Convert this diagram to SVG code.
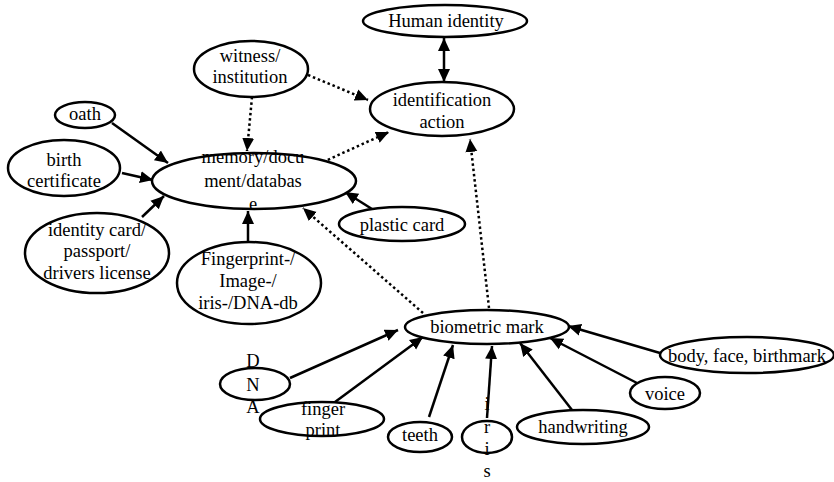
<svg xmlns="http://www.w3.org/2000/svg" width="834" height="482" viewBox="0 0 834 482" font-family="'Liberation Serif','Times New Roman',serif">
<style>
.n ellipse{fill:#fff;stroke:#000;stroke-width:2.5}
.n text{font-family:"Liberation Serif","Times New Roman",serif;font-size:18.5px;fill:#000;text-anchor:middle}
.e path{fill:none;stroke:#000;stroke-width:2.5}
.e .d{stroke-dasharray:2.5 2.8}
</style>
<defs>
<marker id="ah" markerUnits="userSpaceOnUse" markerWidth="16" markerHeight="14" refX="13" refY="6.5" orient="auto-start-reverse">
<path d="M0,0.5 L13,6.5 L0,12.5 Z" fill="#000"/>
</marker>
</defs>
<g id="edges" class="e">
<path d="M444,38 L444,82" marker-start="url(#ah)" marker-end="url(#ah)"/>
<path class="d" d="M308,75 L368,100" marker-end="url(#ah)"/>
<path class="d" d="M252,97 L247,151" marker-end="url(#ah)"/>
<path class="d" d="M323,162 L389,132" marker-end="url(#ah)"/>
<path class="d" d="M489,308 L470,139" marker-end="url(#ah)"/>
<path class="d" d="M423,313 L303,208" marker-end="url(#ah)"/>
<path d="M112,123 L168,163" marker-end="url(#ah)"/>
<path d="M122,173 L153,180" marker-end="url(#ah)"/>
<path d="M142,217 L164,196" marker-end="url(#ah)"/>
<path d="M248,242 L248,211" marker-end="url(#ah)"/>
<path d="M372,209 L345,192" marker-end="url(#ah)"/>
<path d="M290,378 L398,330" marker-end="url(#ah)"/>
<path d="M335,402 L423,337" marker-end="url(#ah)"/>
<path d="M429,417 L453,345" marker-end="url(#ah)"/>
<path d="M487,418 L492,346" marker-end="url(#ah)"/>
<path d="M572,410 L520,343" marker-end="url(#ah)"/>
<path d="M637,383 L550,338" marker-end="url(#ah)"/>
<path d="M660,353 L568,326" marker-end="url(#ah)"/>
</g>
<g id="human_identity" class="n"><ellipse cx="445" cy="21" rx="82" ry="16"/><text x="446" y="27">Human identity</text></g>
<g id="identification_action" class="n"><ellipse cx="442" cy="109" rx="72" ry="27"/><text x="442" y="106">identification</text><text x="442" y="128">action</text></g>
<g id="witness" class="n"><ellipse cx="251" cy="69" rx="57" ry="28"/><text x="250" y="62">witness/</text><text x="250" y="83">institution</text></g>
<g id="oath" class="n"><ellipse cx="85" cy="115" rx="30" ry="13"/><text x="85" y="120">oath</text></g>
<g id="birth_certificate" class="n"><ellipse cx="64" cy="168" rx="56" ry="28"/><text x="64" y="166">birth</text><text x="64" y="187">certificate</text></g>
<g id="memory" class="n"><ellipse cx="254" cy="181" rx="102" ry="28"/><text x="253" y="163">memory/docu</text><text x="253" y="187">ment/databas</text><text x="253" y="210">e</text></g>
<g id="identity_card" class="n"><ellipse cx="97" cy="253" rx="72" ry="40"/><text x="97" y="236">identity card/</text><text x="97" y="257">passport/</text><text x="97" y="279">drivers license</text></g>
<g id="fingerprint_db" class="n"><ellipse cx="249" cy="283" rx="72" ry="41"/><text x="248" y="265">Fingerprint-/</text><text x="248" y="287">Image-/</text><text x="248" y="309">iris-/DNA-db</text></g>
<g id="plastic_card" class="n"><ellipse cx="402" cy="224" rx="63" ry="17"/><text x="402" y="231">plastic card</text></g>
<g id="biometric_mark" class="n"><ellipse cx="487" cy="327" rx="82" ry="17"/><text x="487" y="333">biometric mark</text></g>
<g id="dna" class="n"><ellipse cx="255" cy="384" rx="35" ry="16"/><text x="253" y="367">D</text><text x="253" y="391">N</text><text x="253" y="413">A</text></g>
<g id="finger_print" class="n"><ellipse cx="322" cy="419" rx="62" ry="17"/><text x="323" y="415">finger</text><text x="323" y="436">print</text></g>
<g id="teeth" class="n"><ellipse cx="420" cy="437" rx="32" ry="15"/><text x="420" y="441">teeth</text></g>
<g id="iris" class="n"><ellipse cx="487" cy="437" rx="25" ry="16"/><text x="487" y="410">i</text><text x="487" y="433">r</text><text x="487" y="455">i</text><text x="487" y="477">s</text></g>
<g id="handwriting" class="n"><ellipse cx="583" cy="427" rx="66" ry="17"/><text x="583" y="433">handwriting</text></g>
<g id="voice" class="n"><ellipse cx="665" cy="393" rx="35" ry="16"/><text x="665" y="400">voice</text></g>
<g id="body_face" class="n"><ellipse cx="747" cy="355" rx="87" ry="18"/><text x="747" y="362">body, face, birthmark</text></g>
</svg>
